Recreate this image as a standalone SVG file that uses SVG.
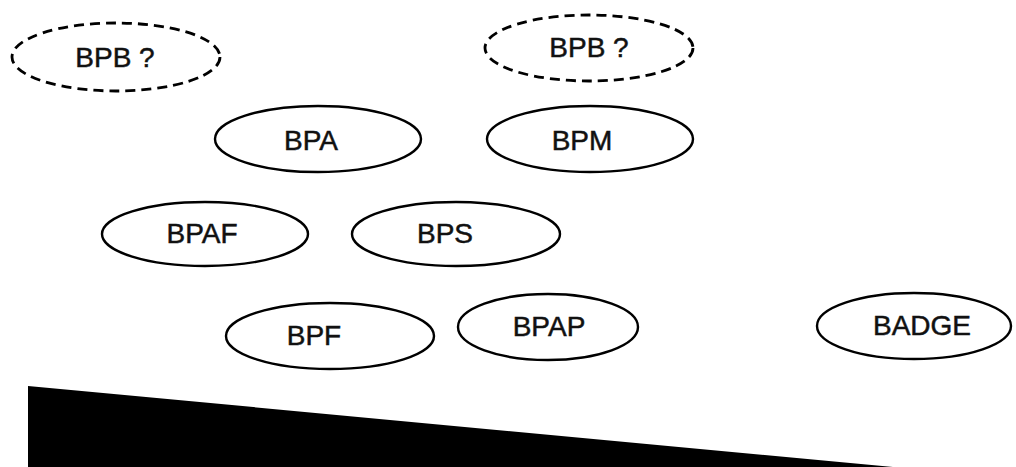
<svg xmlns="http://www.w3.org/2000/svg" width="1016" height="467" viewBox="0 0 1016 467">
<style>
.n ellipse{fill:#fff;stroke:#000;stroke-width:2.4}
.n.d ellipse{stroke-dasharray:10 6;stroke-width:2.8}
.n text{font-family:"Liberation Sans",Arial,sans-serif;font-size:28px;fill:#111;stroke:#111;stroke-width:0.5;text-anchor:middle}
</style>
<rect width="1016" height="467" fill="#fff"/>
<g id="bpb1" class="n d"><ellipse cx="116" cy="57" rx="104" ry="34"/><text x="115" y="67">BPB ?</text></g>
<g id="bpb2" class="n d"><ellipse cx="589" cy="48" rx="104" ry="33"/><text x="589" y="57">BPB ?</text></g>
<g id="bpa" class="n"><ellipse cx="318" cy="139" rx="103" ry="33"/><text x="311" y="150">BPA</text></g>
<g id="bpm" class="n"><ellipse cx="590" cy="139" rx="103" ry="33"/><text x="582" y="150">BPM</text></g>
<g id="bpaf" class="n"><ellipse cx="205" cy="234" rx="103" ry="32"/><text x="202" y="243">BPAF</text></g>
<g id="bps" class="n"><ellipse cx="456" cy="234" rx="104" ry="32"/><text x="445" y="243">BPS</text></g>
<g id="bpf" class="n"><ellipse cx="330" cy="336" rx="104" ry="33"/><text x="314" y="345">BPF</text></g>
<g id="bpap" class="n"><ellipse cx="548" cy="327" rx="90" ry="33"/><text x="549" y="336">BPAP</text></g>
<g id="badge" class="n"><ellipse cx="914" cy="326" rx="97" ry="33"/><text x="922" y="335">BADGE</text></g>
<g id="connectors"></g>
<polygon points="28,386 893,467 28,467" fill="#000"/>
</svg>
